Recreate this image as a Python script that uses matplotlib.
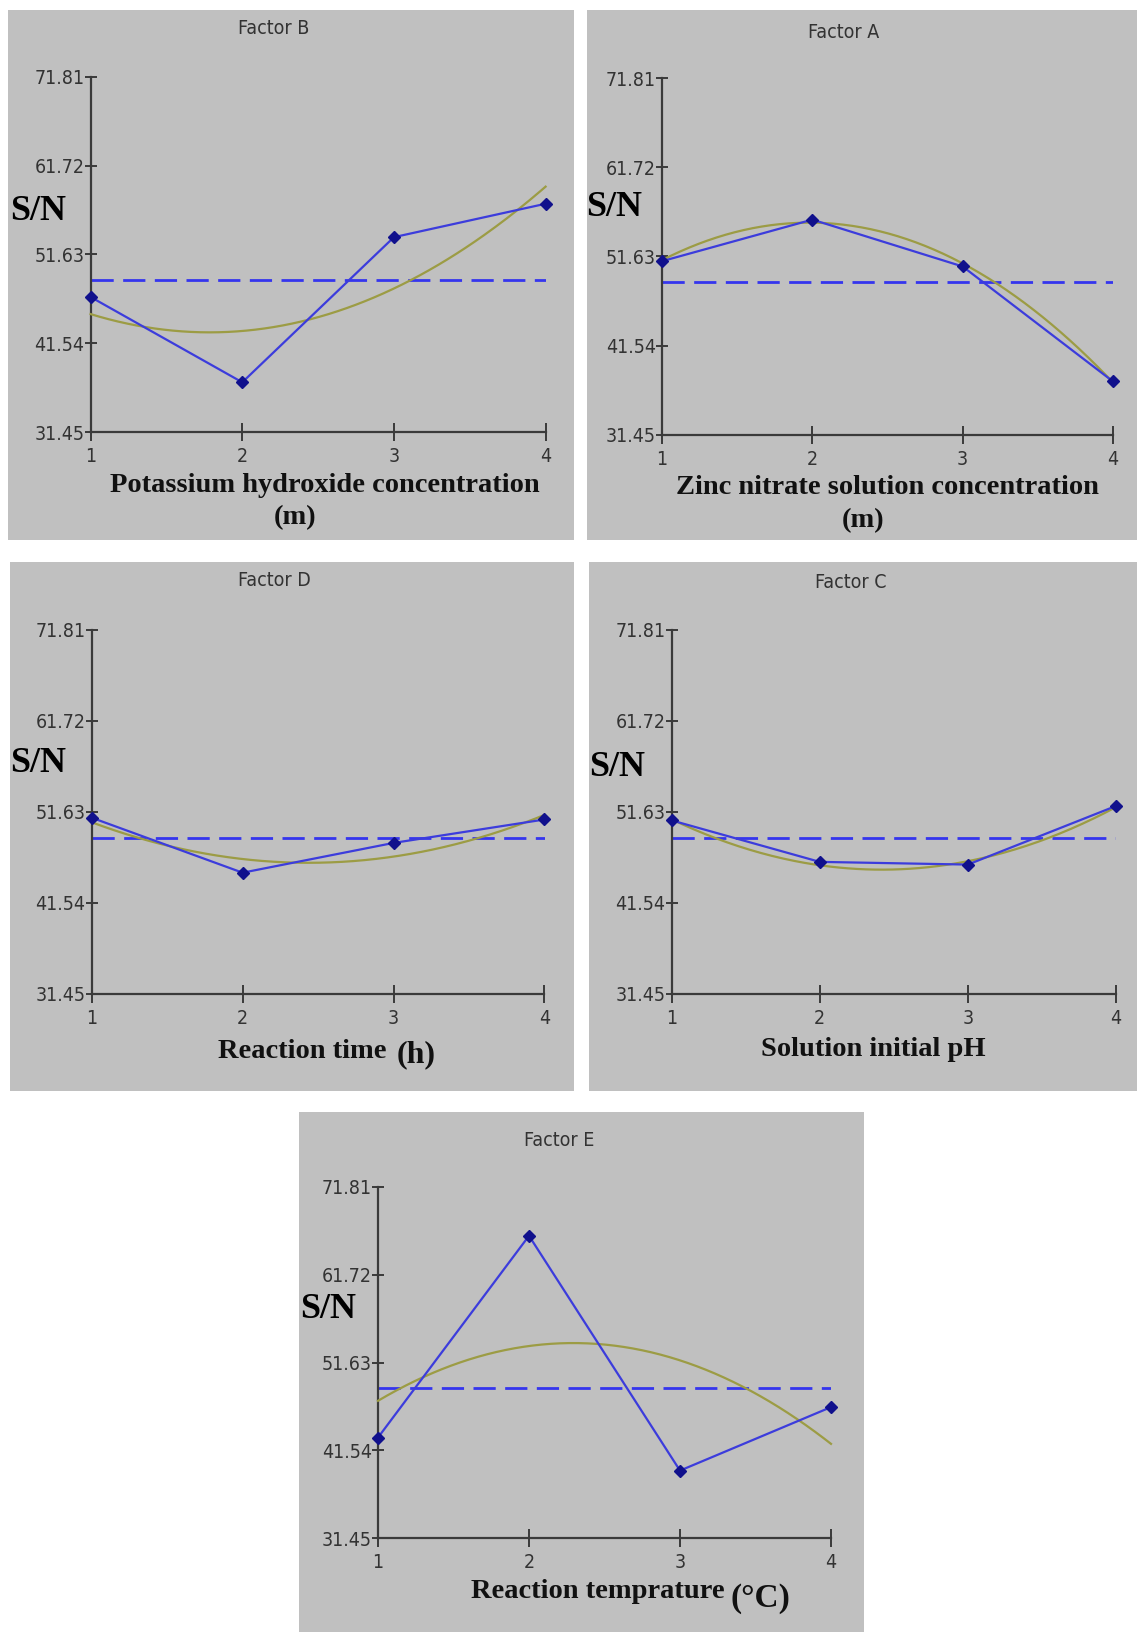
import numpy as np
import matplotlib
matplotlib.use("Agg")
import matplotlib.pyplot as plt
from matplotlib.patches import Rectangle

# S/N ratio per level
levels = [1, 2, 3, 4]
factor_b = [46.8, 37.1, 53.6, 57.4]
factor_a = [51.1, 55.8, 50.5, 37.5]
factor_d = [51.0, 44.9, 48.2, 50.8]
factor_c = [50.7, 46.1, 45.8, 52.3]
factor_e = [43.0, 66.2, 39.2, 46.5]
grand_mean = 48.7

y_ticks = [31.45, 41.54, 51.63, 61.72, 71.81]
y_tick_labels = ["31.45", "41.54", "51.63", "61.72", "71.81"]

W, H = 1137, 1632
fig = plt.figure(figsize=(W / 100, H / 100), dpi=100)
fig.patch.set_facecolor("white")

sans = ["DejaVu Sans"]
serif = ["Liberation Serif", "DejaVu Serif"]


def fx(x):
    return x / W


def fy(y):
    return 1 - y / H


def panel(rect, axbox, values, title, title_xy, sn_xy, labels):
    # gray background of the panel
    x0, y0, x1, y1 = rect
    fig.patches.append(Rectangle((fx(x0), fy(y1)), (x1 - x0) / W, (y1 - y0) / H,
                                 transform=fig.transFigure, facecolor="#c0c0c0",
                                 edgecolor="none", zorder=-5))
    ax0, ay0, ax1, ay1 = axbox
    ax = fig.add_axes([fx(ax0), fy(ay1), (ax1 - ax0) / W, (ay1 - ay0) / H])
    ax.set_zorder(2)
    ax.set_facecolor("none")
    ax.set_xlim(1, 4)
    ax.set_ylim(31.45, 71.81)
    for s in ["top", "right"]:
        ax.spines[s].set_visible(False)
    for s in ["left", "bottom"]:
        ax.spines[s].set_color("#3a3a3a")
        ax.spines[s].set_linewidth(1.6)

    ax.set_xticks(levels)
    ax.set_xticklabels([str(v) for v in levels])
    ax.set_yticks(y_ticks)
    ax.set_yticklabels(y_tick_labels)
    ax.tick_params(axis="x", direction="inout", length=13, width=1.4,
                   color="#3a3a3a", pad=4, labelsize=14, labelcolor="#333333")
    ax.tick_params(axis="y", direction="inout", length=9, width=1.4,
                   color="#3a3a3a", pad=0, labelsize=14, labelcolor="#333333")
    for lab in ax.get_xticklabels() + ax.get_yticklabels():
        lab.set_family(sans)
        lab.set_stretch("condensed")

    # grand mean
    ax.axhline(grand_mean, color="#3535ee", lw=2.0, dashes=(8.0, 3.4), zorder=2)

    # quadratic trend
    coef = np.polyfit(levels, values, 2)
    xs = np.linspace(1, 4, 200)
    ax.plot(xs, np.polyval(coef, xs), color="#9c9c44", lw=1.6, zorder=3, clip_on=False)

    # level means
    ax.plot(levels, values, color="#3c3cdc", lw=1.6, marker="D", markersize=6.5,
            markerfacecolor="#10108c", markeredgecolor="#10108c", zorder=4, clip_on=False)

    fig.text(fx(title_xy[0]), fy(title_xy[1]), title, ha="center", va="center",
             fontsize=14, color="#333333", family=sans, stretch="condensed")
    fig.text(fx(sn_xy[0]), fy(sn_xy[1]), "S/N", ha="left", va="center",
             fontsize=26, fontweight="bold", family=serif, color="black")
    for txt, x, y, size in labels:
        fig.text(fx(x), fy(y), txt, ha="center", va="center", fontsize=size,
                 fontweight="bold", family=serif, color="#111111")
    return ax


panel((8, 10, 574, 540), (90.6, 77, 545.6, 432), factor_b, "Factor B", (274, 29), (10, 211),
      [("Potassium hydroxide concentration", 325, 485, 20.5), ("(m)", 295, 518, 20.5)])
panel((587, 10, 1137, 540), (662, 78, 1113, 435), factor_a, "Factor A", (844, 32), (586, 208),
      [("Zinc nitrate solution concentration", 887, 488, 20.5), ("(m)", 863, 521, 20.5)])
panel((10, 562, 574, 1091), (91.6, 630, 544.5, 994), factor_d, "Factor D", (274, 580), (10, 763),
      [("Reaction time", 302, 1052, 20.5), ("(h)", 416, 1055, 23)])
panel((589, 562, 1137, 1091), (671.6, 630, 1116, 994), factor_c, "Factor C", (851, 583), (589, 768),
      [("Solution initial pH", 873, 1049, 20.5)])
panel((299, 1112, 864, 1632), (378, 1187, 831, 1538), factor_e, "Factor E", (559, 1140), (300, 1309),
      [("Reaction temprature", 598, 1592, 20.5), ("(°C)", 760, 1598, 24)])

fig.savefig("out.png", dpi=100)
